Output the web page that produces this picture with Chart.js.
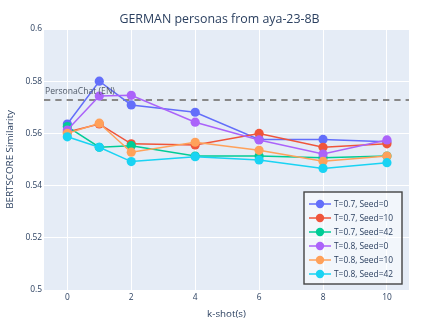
<!DOCTYPE html>
<html>
<head>
<meta charset="utf-8">
<script src="https://cdn.jsdelivr.net/npm/chart.js@4.4.0/dist/chart.umd.min.js"></script>
<style>
    html, body { margin: 0; padding: 0; background: #fff; }
    #wrap { width: 439px; height: 329px; }
</style>
</head>
<body>
<div id="wrap"><canvas id="myChart" width="439" height="329"></canvas></div>
<script>
// k-shot values on the x axis
const shots = [0, 1, 2, 4, 6, 8, 10];

// BERTScore similarity per run
const t07seed0 = [0.5636, 0.5800, 0.5709, 0.5681, 0.5577, 0.5577, 0.5568];
const t07seed10 = [0.5605, 0.5636, 0.5560, 0.5556, 0.5600, 0.5547, 0.5560];
const t07seed42 = [0.5626, 0.5547, 0.5553, 0.5513, 0.5513, 0.5507, 0.5513];
const t08seed0 = [0.5613, 0.5743, 0.5746, 0.5643, 0.5575, 0.5521, 0.5575];
const t08seed10 = [0.5600, 0.5639, 0.5528, 0.5566, 0.5535, 0.5493, 0.5513];
const t08seed42 = [0.5587, 0.5547, 0.5492, 0.5511, 0.5498, 0.5466, 0.5488];

const seriesNames = [
    'T=0.7, Seed=0',
    'T=0.7, Seed=10',
    'T=0.7, Seed=42',
    'T=0.8, Seed=0',
    'T=0.8, Seed=10',
    'T=0.8, Seed=42',
];
const seriesColors = ['#636efa', '#EF553B', '#00cc96', '#ab63fa', '#FFA15A', '#19d3f3'];

// reference line
const personaChatEN = 0.5728;
const personaChatLabel = 'PersonaChat (EN)';

// tick labels
const xTicks = [0, 2, 4, 6, 8, 10];
const yTicks = [0.5, 0.52, 0.54, 0.56, 0.58, 0.6];

const FONT = '"Open Sans", "DejaVu Sans", sans-serif';
const TEXT = '#2a3f5f';

const allSeries = [t07seed0, t07seed10, t07seed42, t08seed0, t08seed10, t08seed42];

const datasets = allSeries.map((vals, i) => ({
    label: seriesNames[i],
    data: vals.map((v, j) => ({ x: shots[j], y: v })),
    borderColor: seriesColors[i],
    backgroundColor: seriesColors[i],
    pointBackgroundColor: seriesColors[i],
    borderWidth: 1.5,
    pointRadius: 4.6,
    pointBorderWidth: 0,
    tension: 0,
    order: allSeries.length - i,
}));

// plot background + title
const plotBg = {
    id: 'plotBg',
    beforeDraw(chart) {
        const { ctx, chartArea: a } = chart;
        ctx.save();
        ctx.fillStyle = '#E5ECF6';
        ctx.fillRect(a.left, a.top, a.right - a.left, a.bottom - a.top);
        ctx.fillStyle = TEXT;
        ctx.font = '12.4px ' + FONT;
        ctx.textAlign = 'center';
        ctx.textBaseline = 'middle';
        ctx.fillText('GERMAN personas from aya-23-8B', chart.width / 2, 19);
        ctx.restore();
    },
};

// dashed horizontal reference line
const refLine = {
    id: 'refLine',
    beforeDatasetsDraw(chart) {
        const { ctx, chartArea: a, scales } = chart;
        const y = scales.y.getPixelForValue(personaChatEN);
        ctx.save();
        ctx.strokeStyle = '#888';
        ctx.lineWidth = 2;
        ctx.setLineDash([6.3, 5]);
        ctx.beginPath();
        ctx.moveTo(a.left, y);
        ctx.lineTo(a.right, y);
        ctx.stroke();
        ctx.restore();
    },
    afterDatasetsDraw(chart) {
        const { ctx, chartArea: a, scales } = chart;
        const y = scales.y.getPixelForValue(personaChatEN);
        ctx.save();
        ctx.fillStyle = '#505a68';
        ctx.font = '8.6px ' + FONT;
        ctx.textAlign = 'left';
        ctx.textBaseline = 'middle';
        ctx.fillText(personaChatLabel, a.left + 1, y - 8);
        ctx.restore();
    },
};

// legend box inside the plot, bottom right
const boxLegend = {
    id: 'boxLegend',
    afterDraw(chart) {
        const { ctx, chartArea: a } = chart;
        const w = 98, h = 92;
        const x0 = a.right - 7 - w;
        const y0 = a.bottom - 6 - h;
        ctx.save();
        ctx.fillStyle = 'rgba(255,255,255,0.5)';
        ctx.fillRect(x0, y0, w, h);
        ctx.strokeStyle = '#444';
        ctx.lineWidth = 1.4;
        ctx.strokeRect(x0, y0, w, h);
        ctx.font = '8.4px ' + FONT;
        ctx.textAlign = 'left';
        ctx.textBaseline = 'middle';
        chart.data.datasets.forEach((ds, i) => {
            const yy = y0 + 12 + i * 14;
            ctx.strokeStyle = ds.borderColor;
            ctx.lineWidth = 1.5;
            ctx.beginPath();
            ctx.moveTo(x0 + 5, yy);
            ctx.lineTo(x0 + 27, yy);
            ctx.stroke();
            ctx.fillStyle = ds.borderColor;
            ctx.beginPath();
            ctx.arc(x0 + 16, yy, 4.2, 0, Math.PI * 2);
            ctx.fill();
            ctx.fillStyle = TEXT;
            ctx.fillText(ds.label, x0 + 30, yy + 0.5);
        });
        ctx.restore();
    },
};

const config = {
    type: 'line',
    data: { datasets },
    options: {
        responsive: false,
        animation: false,
        devicePixelRatio: 1,
        layout: { padding: { top: 29, right: 30, bottom: 0, left: 0 } },
        plugins: {
            legend: { display: false },
            title: { display: false },
            tooltip: { enabled: false },
        },
        scales: {
            x: {
                type: 'linear',
                min: -0.73,
                max: 10.69,
                afterBuildTicks: (s) => { s.ticks = xTicks.map((v) => ({ value: v })); },
                afterFit: (s) => { s.height = 39; },
                grid: { color: '#ffffff', lineWidth: 1, drawTicks: false },
                border: { display: false },
                ticks: {
                    color: TEXT,
                    font: { family: FONT, size: 8.4 },
                    padding: 3,
                    maxRotation: 0,
                    callback: (v) => String(v),
                },
                title: {
                    display: true,
                    text: 'k-shot(s)',
                    color: TEXT,
                    font: { family: FONT, size: 9.8 },
                    padding: { top: 0, bottom: 9 },
                },
            },
            y: {
                min: 0.5,
                max: 0.6,
                afterBuildTicks: (s) => { s.ticks = yTicks.map((v) => ({ value: v })); },
                afterFit: (s) => { s.width = 44; },
                grid: { color: '#ffffff', lineWidth: 1, drawTicks: false },
                border: { display: false },
                ticks: {
                    color: TEXT,
                    font: { family: FONT, size: 8.4 },
                    padding: 2,
                    callback: (v) => String(+v.toFixed(2)),
                },
                title: {
                    display: true,
                    text: 'BERTSCORE Similarity',
                    color: TEXT,
                    font: { family: FONT, size: 9.8 },
                    padding: { top: 4, bottom: 0 },
                },
            },
        },
    },
    plugins: [plotBg, refLine, boxLegend],
};

const myChart = new Chart(document.querySelector('#myChart').getContext('2d'), config);
</script>
</body>
</html>
